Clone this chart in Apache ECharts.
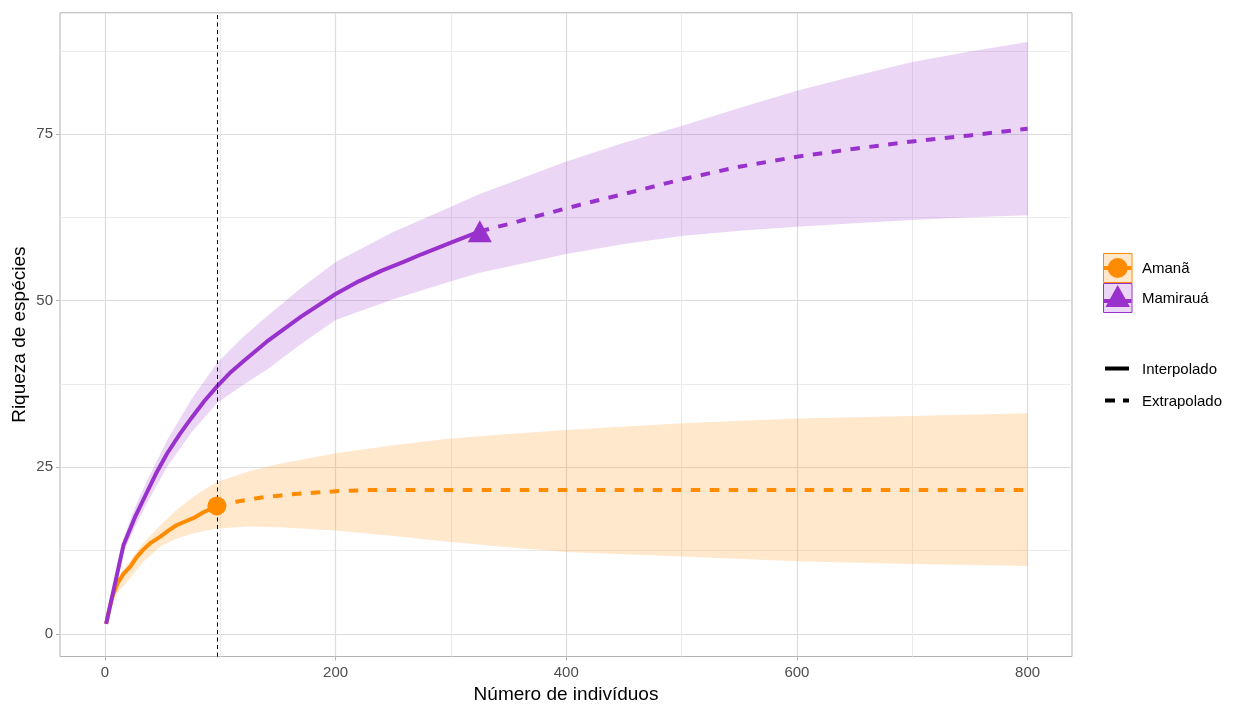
<!DOCTYPE html>
<html>
<head>
<meta charset="utf-8">
<script src="https://cdn.jsdelivr.net/npm/echarts@6/dist/echarts.min.js"></script>
<style>
html,body{margin:0;padding:0;background:#fff;}
#chart{width:1240px;height:706px;}
</style>
</head>
<body>
<div id="chart"></div>
<script>
// ---- tick values ----
const xTicks = [0, 200, 400, 600, 800];
const xMinor = [100, 300, 500, 700];
const yTicks = [0, 25, 50, 75];
const yMinor = [12.5, 37.5, 62.5, 87.5];

// ---- Amanã ----
const amanaInterpX = [1, 6, 11, 16, 22, 27, 33, 40, 48, 55, 62, 70, 77, 85, 91, 97];
const amanaInterpY = [1.5, 5.4, 7.6, 9.0, 10.1, 11.4, 12.6, 13.7, 14.6, 15.5, 16.3, 16.9, 17.4, 18.2, 18.7, 19.2];
const amanaExtrapX = [97, 116, 133, 149, 165, 183, 200, 231, 300, 400, 500, 600, 700, 800];
const amanaExtrapY = [19.2, 19.9, 20.4, 20.7, 21.0, 21.2, 21.4, 21.6, 21.6, 21.6, 21.6, 21.6, 21.6, 21.6];
const amanaBandX = [1, 10, 19, 33, 48, 62, 77, 97, 125, 150, 200, 250, 300, 350, 400, 500, 600, 700, 800];
const amanaLower = [1.5, 6.0, 7.8, 10.8, 13.1, 14.3, 15.1, 15.8, 16.1, 16.0, 15.5, 14.7, 13.8, 13.0, 12.3, 11.6, 10.9, 10.5, 10.2];
const amanaUpper = [1.5, 8.0, 10.3, 13.6, 16.3, 18.6, 20.6, 22.8, 24.4, 25.5, 27.1, 28.3, 29.3, 30.0, 30.6, 31.6, 32.3, 32.7, 33.1];
const amanaRef = [97, 19.2];

// ---- Mamirauá ----
const mamInterpX = [1, 16, 26, 36, 45, 54, 65, 75, 86, 97, 108, 120, 140, 170, 200, 220, 240, 260, 275, 300, 325];
const mamInterpY = [1.5, 13.3, 17.5, 21.1, 24.3, 27.1, 30.0, 32.4, 34.9, 37.1, 39.1, 40.9, 43.8, 47.6, 51.0, 52.9, 54.5, 55.9, 57.0, 58.7, 60.4];
const mamExtrapX = [325, 350, 377, 412, 450, 500, 550, 600, 650, 700, 750, 800];
const mamExtrapY = [60.4, 61.5, 62.8, 64.4, 66.0, 68.2, 70.1, 71.6, 72.8, 73.9, 74.8, 75.8];
const mamBandX = [1, 16, 26, 36, 54, 75, 97, 120, 140, 170, 200, 250, 300, 325, 400, 450, 500, 550, 600, 650, 700, 750, 800];
const mamLower = [1.5, 12.3, 16.0, 19.5, 25.1, 30.2, 34.6, 37.4, 39.6, 43.5, 47.1, 50.2, 52.9, 54.2, 57.0, 58.5, 59.7, 60.5, 61.1, 61.6, 62.1, 62.5, 62.8];
const mamUpper = [1.5, 14.3, 19.0, 22.8, 29.1, 35.2, 40.6, 44.6, 47.6, 51.9, 55.8, 60.3, 64.1, 66.0, 70.9, 73.7, 76.2, 78.9, 81.5, 83.7, 85.8, 87.4, 88.8];
const mamRef = [325, 60.4];

// reference sample size (vertical dashed line)
const refLineX = 97;

const seriesNames = ['Amanã', 'Mamirauá'];
const methodNames = ['Interpolado', 'Extrapolado'];

const ORANGE = '#FF8C00', PURPLE = '#9932CC';
const ORANGE_BAND = 'rgba(255,140,0,0.2)', PURPLE_BAND = 'rgba(153,50,204,0.2)';
const FONT = '"Liberation Sans", Arial, sans-serif';

function zip(a, b) { return a.map((v, i) => [v, b[i]]); }

function bandSeries(xs, lo, hi, fill) {
  return {
    type: 'custom', silent: true, z: 1, clip: true,
    data: xs.map((x, i) => [x, lo[i], hi[i]]),
    encode: { x: 0, y: [1, 2] },
    renderItem: function (params, api) {
      if (params.dataIndex !== 0) return null;
      const pts = [];
      for (let i = 0; i < xs.length; i++) pts.push(api.coord([xs[i], hi[i]]));
      for (let i = xs.length - 1; i >= 0; i--) pts.push(api.coord([xs[i], lo[i]]));
      return { type: 'polygon', shape: { points: pts }, style: { fill: fill, stroke: null } };
    }
  };
}

function lineSeries(xs, ys, color, dashed, z) {
  return {
    type: 'line', silent: true, z: z, showSymbol: false, symbol: 'none',
    data: zip(xs, ys),
    lineStyle: { color: color, width: 4, type: dashed ? [9.5, 9.5] : 'solid', cap: 'butt', join: 'round' },
    animation: false
  };
}

const chart = echarts.init(document.getElementById('chart'), null, { renderer: 'canvas' });

const gridLeft = 60, gridRight = 1240 - 1072, gridTop = 12.8, gridBottom = 706 - 656.5;

const option = {
  animation: false,
  backgroundColor: '#ffffff',
  textStyle: { fontFamily: FONT },
  grid: {
    left: gridLeft, right: gridRight, top: gridTop, bottom: gridBottom,
    containLabel: false, outerBoundsMode: 'none',
    show: true, borderColor: '#b3b3b3', borderWidth: 1, backgroundColor: 'transparent'
  },
  xAxis: [
    {
      type: 'value', min: -39, max: 838.5, position: 'bottom',
      name: 'Número de indivíduos', nameLocation: 'middle', nameGap: 28,
      nameTextStyle: { fontSize: 19, color: '#000000', fontFamily: FONT },
      axisLine: { show: false, onZero: false },
      axisTick: { show: true, length: 4, customValues: xTicks, lineStyle: { color: '#b3b3b3', width: 1 } },
      axisLabel: { customValues: xTicks, color: '#4d4d4d', fontSize: 15, margin: 9, fontFamily: FONT },
      splitLine: { show: true, lineStyle: { color: '#dcdcdc', width: 1.2 } }
    },
    {
      type: 'value', min: -39, max: 838.5, position: 'top',
      axisLine: { show: false, onZero: false },
      axisTick: { show: false, customValues: xMinor },
      axisLabel: { show: false, customValues: xMinor },
      splitLine: { show: true, lineStyle: { color: '#ebebeb', width: 1 } }
    }
  ],
  yAxis: [
    {
      type: 'value', min: -3.4, max: 93.2, position: 'left',
      name: 'Riqueza de espécies', nameLocation: 'middle', nameGap: 31, nameMoveOverlap: false,
      nameTextStyle: { fontSize: 19, color: '#000000', fontFamily: FONT },
      axisLine: { show: false, onZero: false },
      axisTick: { show: true, length: 4, customValues: yTicks, lineStyle: { color: '#b3b3b3', width: 1 } },
      axisLabel: { customValues: yTicks, color: '#4d4d4d', fontSize: 15, margin: 7, fontFamily: FONT },
      splitLine: { show: true, lineStyle: { color: '#dcdcdc', width: 1.2 } }
    },
    {
      type: 'value', min: -3.4, max: 93.2, position: 'right',
      axisLine: { show: false, onZero: false },
      axisTick: { show: false, customValues: yMinor },
      axisLabel: { show: false, customValues: yMinor },
      splitLine: { show: true, lineStyle: { color: '#ebebeb', width: 1 } }
    }
  ],
  series: [
    bandSeries(amanaBandX, amanaLower, amanaUpper, ORANGE_BAND),
    bandSeries(mamBandX, mamLower, mamUpper, PURPLE_BAND),
    lineSeries(amanaInterpX, amanaInterpY, ORANGE, false, 3),
    lineSeries(amanaExtrapX, amanaExtrapY, ORANGE, true, 3),
    lineSeries(mamInterpX, mamInterpY, PURPLE, false, 4),
    lineSeries(mamExtrapX, mamExtrapY, PURPLE, true, 4),
    {
      type: 'scatter', silent: true, z: 5, name: seriesNames[0],
      symbol: 'circle', symbolSize: 19,
      itemStyle: { color: ORANGE, opacity: 1 },
      data: [amanaRef],
      markLine: {
        silent: true, symbol: ['none', 'none'], animation: false,
        label: { show: false },
        lineStyle: { color: '#000000', width: 1, type: [4, 3.5] },
        data: [{ xAxis: refLineX }]
      }
    },
    {
      type: 'scatter', silent: true, z: 5, name: seriesNames[1],
      symbol: 'triangle', symbolSize: [24, 22],
      itemStyle: { color: PURPLE, opacity: 1 },
      data: [mamRef]
    }
  ],
  graphic: [
    // colour legend
    { type: 'rect', shape: { x: 1103.5, y: 253.5, width: 28.5, height: 29 }, style: { fill: '#FFE8CC', stroke: ORANGE, lineWidth: 1 } },
    { type: 'line', shape: { x1: 1104, y1: 268, x2: 1131.5, y2: 268 }, style: { stroke: ORANGE, lineWidth: 4 } },
    { type: 'circle', shape: { cx: 1117.7, cy: 268, r: 10 }, style: { fill: ORANGE } },
    { type: 'rect', shape: { x: 1103.5, y: 283.5, width: 28.5, height: 29 }, style: { fill: '#EBD6F5', stroke: PURPLE, lineWidth: 1 } },
    { type: 'line', shape: { x1: 1104, y1: 301, x2: 1131.5, y2: 301 }, style: { stroke: PURPLE, lineWidth: 4 } },
    { type: 'polygon', shape: { points: [[1117.7, 285], [1105.5, 307], [1130, 307]] }, style: { fill: PURPLE } },
    { type: 'text', x: 1142, y: 269, style: { text: seriesNames[0], font: '15px ' + FONT, fill: '#000', textVerticalAlign: 'middle', verticalAlign: 'middle' } },
    { type: 'text', x: 1142, y: 299, style: { text: seriesNames[1], font: '15px ' + FONT, fill: '#000', textVerticalAlign: 'middle', verticalAlign: 'middle' } },
    // linetype legend
    { type: 'line', shape: { x1: 1105, y1: 368.5, x2: 1129, y2: 368.5 }, style: { stroke: '#000', lineWidth: 4 } },
    { type: 'line', shape: { x1: 1105, y1: 400.5, x2: 1129, y2: 400.5 }, style: { stroke: '#000', lineWidth: 4, lineDash: [10, 8] } },
    { type: 'text', x: 1142, y: 370, style: { text: methodNames[0], font: '15px ' + FONT, fill: '#000', textVerticalAlign: 'middle', verticalAlign: 'middle' } },
    { type: 'text', x: 1142, y: 402, style: { text: methodNames[1], font: '15px ' + FONT, fill: '#000', textVerticalAlign: 'middle', verticalAlign: 'middle' } }
  ]
};

chart.setOption(option);
</script>
</body>
</html>
